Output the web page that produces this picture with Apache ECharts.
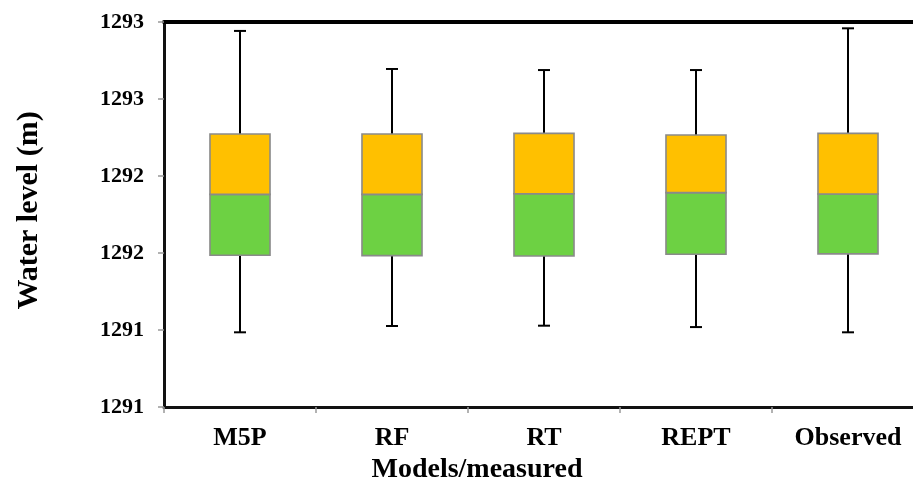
<!DOCTYPE html>
<html>
<head>
<meta charset="utf-8">
<script src="https://cdn.jsdelivr.net/npm/echarts@6/dist/echarts.min.js"></script>
<style>
html,body{margin:0;padding:0;background:#fff;}
#chart{width:913px;height:484px;}
</style>
</head>
<body>
<div id="chart"></div>
<script>
// Data
var categories = ['M5P', 'RF', 'RT', 'REPT', 'Observed'];
var whiskerLow  = [1290.985, 1291.026, 1291.028, 1291.019, 1290.985];
var q1          = [1291.485, 1291.483, 1291.481, 1291.492, 1291.494];
var median      = [1291.881, 1291.881, 1291.885, 1291.892, 1291.883];
var q3          = [1292.273, 1292.273, 1292.277, 1292.266, 1292.277];
var whiskerHigh = [1292.942, 1292.695, 1292.688, 1292.688, 1292.959];
var yMin = 1290.5, yMax = 1293.0, yStep = 0.5;

var FONT = "'Liberation Serif', 'Times New Roman', serif";

var boxData = categories.map(function (c, i) {
  return [i, whiskerLow[i], q1[i], median[i], q3[i], whiskerHigh[i]];
});

function renderBox(params, api) {
  var i = api.value(0);
  var pLo = api.coord([i, api.value(1)]);
  var pQ1 = api.coord([i, api.value(2)]);
  var pMed = api.coord([i, api.value(3)]);
  var pQ3 = api.coord([i, api.value(4)]);
  var pHi = api.coord([i, api.value(5)]);
  var band = api.size([1, 0])[0];
  var bw = band * 0.395;
  var cap = 12;
  var cx = pMed[0];
  var lineStyle = { stroke: '#000', lineWidth: 2 };
  var boxStroke = '#8a8a8a';
  return {
    type: 'group',
    children: [
      { type: 'line', shape: { x1: cx, y1: pQ1[1], x2: cx, y2: pLo[1] }, style: lineStyle },
      { type: 'line', shape: { x1: cx - cap / 2, y1: pLo[1], x2: cx + cap / 2, y2: pLo[1] }, style: lineStyle },
      { type: 'line', shape: { x1: cx, y1: pQ3[1], x2: cx, y2: pHi[1] }, style: lineStyle },
      { type: 'line', shape: { x1: cx - cap / 2, y1: pHi[1], x2: cx + cap / 2, y2: pHi[1] }, style: lineStyle },
      { type: 'rect', shape: { x: cx - bw / 2, y: pMed[1], width: bw, height: pQ1[1] - pMed[1] },
        style: { fill: '#6dd143', stroke: boxStroke, lineWidth: 1.6 } },
      { type: 'rect', shape: { x: cx - bw / 2, y: pQ3[1], width: bw, height: pMed[1] - pQ3[1] },
        style: { fill: '#ffc000', stroke: boxStroke, lineWidth: 1.6 } }
    ]
  };
}

var chart = echarts.init(document.getElementById('chart'), null, { renderer: 'canvas' });
chart.setOption({
  backgroundColor: '#fff',
  animation: false,
  grid: { left: 164, top: 22, width: 760, height: 385, containLabel: false, outerBoundsMode: 'none' },
  xAxis: [{
    type: 'category',
    data: categories,
    position: 'bottom',
    name: 'Models/measured',
    nameLocation: 'middle',
    nameGap: 45,
    nameTextStyle: { fontFamily: FONT, fontWeight: 'bold', fontSize: 28, color: '#000', padding: [0, 134, 0, 0] },
    axisLine: { lineStyle: { color: '#111', width: 3 } },
    axisTick: { show: true, length: 6, lineStyle: { color: '#999', width: 1.5 } },
    axisLabel: { fontFamily: FONT, fontWeight: 'bold', fontSize: 26, color: '#000', margin: 18 },
    splitLine: { show: false }
  }, {
    type: 'category',
    data: categories,
    position: 'top',
    axisLine: { lineStyle: { color: '#000', width: 4 } },
    axisTick: { show: false },
    axisLabel: { show: false }
  }],
  yAxis: {
    type: 'value',
    min: yMin,
    max: yMax,
    interval: yStep,
    name: 'Water level (m)',
    nameLocation: 'middle',
    nameGap: 120,
    nameTextStyle: { fontFamily: FONT, fontWeight: 'bold', fontSize: 30, color: '#000', padding: [0, 0, 0, 8] },
    axisLine: { show: true, lineStyle: { color: '#111', width: 3 } },
    axisTick: { show: true, length: 6, lineStyle: { color: '#999', width: 1.5 } },
    axisLabel: {
      fontFamily: FONT, fontWeight: 'bold', fontSize: 22, color: '#000', margin: 20,
      formatter: function (v) { return String(Math.round(v)); }
    },
    splitLine: { show: false }
  },
  series: [{
    type: 'custom',
    renderItem: renderBox,
    encode: { x: 0, y: [1, 2, 3, 4, 5] },
    data: boxData,
    clip: false
  }]
});
</script>
</body>
</html>
